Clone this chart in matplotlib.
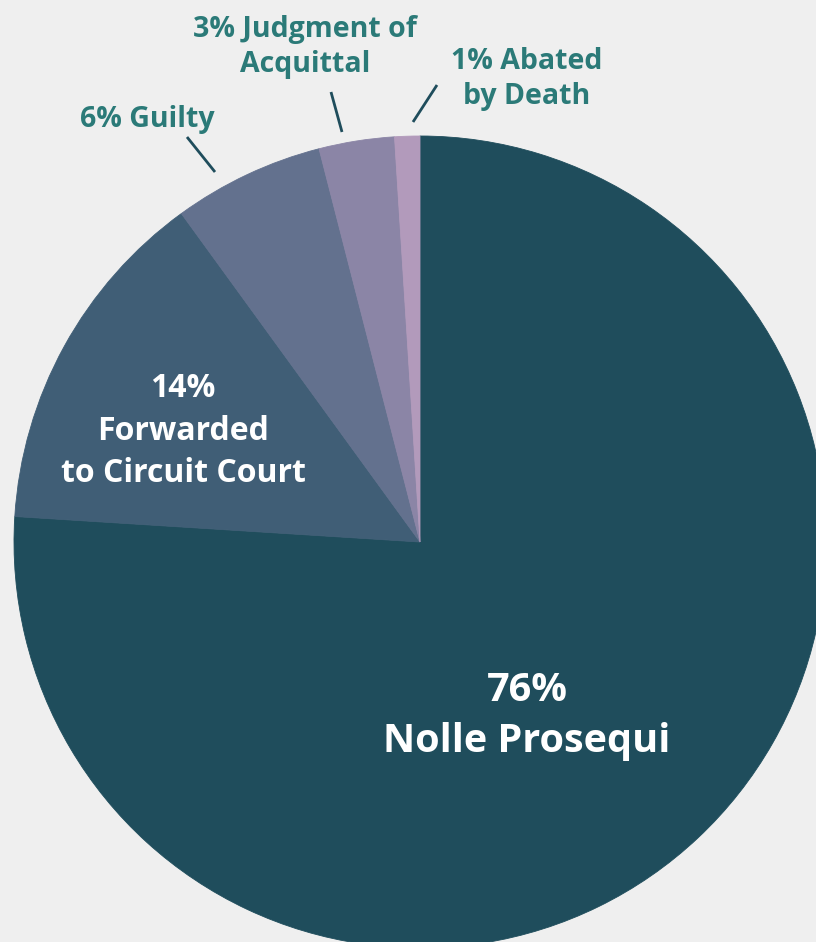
import matplotlib
matplotlib.use("Agg")
import matplotlib.pyplot as plt

categories = ["Nolle Prosequi", "Forwarded to Circuit Court", "Guilty", "Judgment of Acquittal", "Abated by Death"]
values = [76, 14, 6, 3, 1]
colors = ["#1f4d5c", "#405e76", "#63718e", "#8b85a6", "#b29abb"]

W, H = 816, 942
fig = plt.figure(figsize=(W / 100, H / 100), dpi=100, facecolor="#efefef")
ax = fig.add_axes([0, 0, 1, 1])
ax.set_facecolor("#efefef")

cx, cy, r = 420, H - 542, 406
wedges, _ = ax.pie(values, colors=colors, startangle=90, counterclock=False,
                   center=(cx, cy), radius=r, frame=True,
                   wedgeprops=dict(linewidth=0.6))
for w, c in zip(wedges, colors):
    w.set_edgecolor(c)
ax.set_xlim(0, W)
ax.set_ylim(0, H)
ax.set_aspect("equal")
ax.axis("off")

font = "Open Sans"
teal = "#2b7a78"
line_c = "#1f4d5c"

def Y(y):
    return H - y

# Inside labels
ax.text(527, Y(716), f"{values[0]}%\nNolle Prosequi", ha="center", va="center",
        color="white", fontsize=28.5, fontweight="bold", family=font, linespacing=1.4)
ax.text(183, Y(431), f"{values[1]}%\nForwarded\nto Circuit Court", ha="center", va="center",
        color="white", fontsize=23, fontweight="bold", family=font, linespacing=1.38)

# Outside labels
ax.text(147, Y(119), f"{values[2]}% Guilty", ha="center", va="center",
        color=teal, fontsize=20.5, fontweight="bold", family=font)
ax.text(305, Y(47), f"{values[3]}% Judgment of\nAcquittal", ha="center", va="center",
        color=teal, fontsize=20.5, fontweight="bold", family=font, linespacing=1.3)
ax.text(527, Y(79), f"{values[4]}% Abated\nby Death", ha="center", va="center",
        color=teal, fontsize=20.5, fontweight="bold", family=font, linespacing=1.3)

# Leader lines
for (x1, y1, x2, y2) in [(187, 137, 215, 172), (331, 92, 342, 132), (437, 85, 413, 122)]:
    ax.plot([x1, x2], [Y(y1), Y(y2)], color=line_c, linewidth=2, solid_capstyle="butt")

fig.savefig("out.png", dpi=100, facecolor="#efefef")
